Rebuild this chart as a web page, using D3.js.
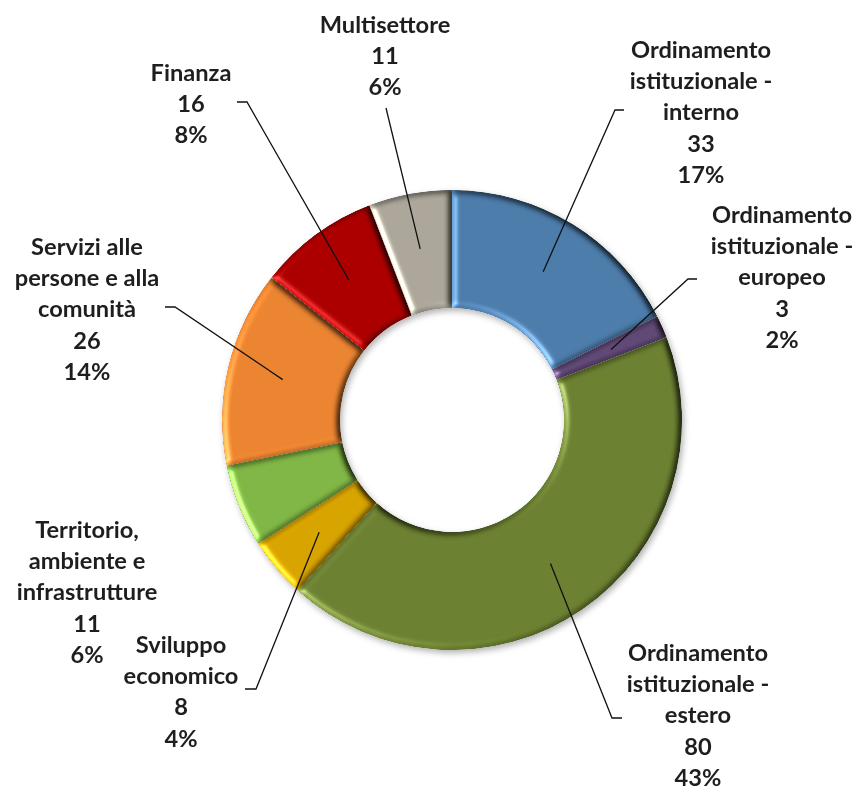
<!DOCTYPE html>
<html>
<head>
<meta charset="utf-8">
<script src="https://cdn.jsdelivr.net/npm/d3@7"></script>
<style>
  html, body { margin: 0; padding: 0; background: #ffffff; }
  svg { display: block; }
</style>
</head>
<body>
<div id="chart"></div>
<script>
// ---- data ----
const categories = [
  "Ordinamento istituzionale - interno",
  "Ordinamento istituzionale - europeo",
  "Ordinamento istituzionale - estero",
  "Sviluppo economico",
  "Territorio, ambiente e infrastrutture",
  "Servizi alle persone e alla comunità",
  "Finanza",
  "Multisettore"
];
const values = [33, 3, 80, 8, 11, 26, 16, 11];
const percentLabels = ["17%", "2%", "43%", "4%", "6%", "14%", "8%", "6%"];
const labelLines = [
  ["Ordinamento", "istituzionale -", "interno"],
  ["Ordinamento", "istituzionale -", "europeo"],
  ["Ordinamento", "istituzionale -", "estero"],
  ["Sviluppo", "economico"],
  ["Territorio,", "ambiente e", "infrastrutture"],
  ["Servizi alle", "persone e alla", "comunità"],
  ["Finanza"],
  ["Multisettore"]
];

// ---- styles / layout ----
const colors = ["#4a79a7", "#5d4672", "#687d2f", "#d4a000", "#7db342", "#e8812e", "#a80000", "#a8a396"];
const W = 859, H = 793;
const cx = 452, cy = 420, rOuter = 230, rInner = 112, rLeader = 174;
const lineH = 31.2;
// label block: centre x, first line y; leader: elbow and end points
const labelLayout = [
  { x: 701, y: 49,  elbow: [615, 110], end: [624, 110] },
  { x: 782, y: 214, elbow: [688, 279], end: [697, 279] },
  { x: 698, y: 652, elbow: [612, 718], end: [622, 718] },
  { x: 181, y: 644, elbow: [256, 689], end: [245, 689] },
  { x: 87,  y: 529, elbow: null, end: null },
  { x: 87,  y: 246, elbow: [175, 307], end: [165, 307] },
  { x: 191, y: 72,  elbow: [247, 102], end: [237, 102] },
  { x: 385, y: 24,  elbow: [386, 108], end: null }
];

const svg = d3.select("#chart").append("svg")
  .attr("width", W).attr("height", H)
  .attr("viewBox", `0 0 ${W} ${H}`);

svg.append("rect").attr("width", W).attr("height", H).attr("fill", "#fff");

const defs = svg.append("defs");
const bevel = defs.append("filter").attr("id", "bevel")
  .attr("x", "-10%").attr("y", "-10%").attr("width", "120%").attr("height", "120%")
  .attr("color-interpolation-filters", "sRGB");
bevel.append("feGaussianBlur").attr("in", "SourceAlpha").attr("stdDeviation", 3).attr("result", "blur");
const diff = bevel.append("feDiffuseLighting").attr("in", "blur").attr("surfaceScale", 3.5)
  .attr("diffuseConstant", 1).attr("lighting-color", "#fff").attr("result", "diff");
diff.append("feDistantLight").attr("azimuth", 155).attr("elevation", 55);
bevel.append("feComposite").attr("in", "SourceGraphic").attr("in2", "diff")
  .attr("operator", "arithmetic").attr("k1", 1 / Math.sin(55 * Math.PI / 180)).attr("k2", 0).attr("k3", 0).attr("k4", 0)
  .attr("result", "lit");
const spec = bevel.append("feSpecularLighting").attr("in", "blur").attr("surfaceScale", 3.5)
  .attr("specularConstant", 0.6).attr("specularExponent", 25).attr("lighting-color", "#fff").attr("result", "spec");
spec.append("feDistantLight").attr("azimuth", 155).attr("elevation", 35);
bevel.append("feComposite").attr("in", "spec").attr("in2", "SourceAlpha").attr("operator", "in").attr("result", "specIn");
bevel.append("feComposite").attr("in", "lit").attr("in2", "SourceAlpha").attr("operator", "in").attr("result", "litIn");
bevel.append("feComposite").attr("in", "litIn").attr("in2", "specIn")
  .attr("operator", "arithmetic").attr("k1", 0).attr("k2", 1).attr("k3", 0.5).attr("k4", 0);

const shadow = defs.append("filter").attr("id", "shadow")
  .attr("x", "-10%").attr("y", "-10%").attr("width", "120%").attr("height", "120%");
shadow.append("feDropShadow").attr("dx", 2).attr("dy", 3).attr("stdDeviation", 3)
  .attr("flood-color", "#000").attr("flood-opacity", 0.3);

const pie = d3.pie().sort(null).value(d => d).startAngle(0).endAngle(2 * Math.PI);
const arcs = pie(values);
const arc = d3.arc().innerRadius(rInner).outerRadius(rOuter);
const leaderArc = d3.arc().innerRadius(rLeader).outerRadius(rLeader);

const g = svg.append("g").attr("transform", `translate(${cx},${cy})`);
const ring = g.append("g").attr("filter", "url(#shadow)");
ring.selectAll("path.slice").data(arcs).join("path")
  .attr("class", "slice")
  .attr("d", arc)
  .attr("fill", (d, i) => colors[i])
  .attr("filter", "url(#bevel)");

// leader lines
const leaders = svg.append("g").attr("fill", "none").attr("stroke", "#111").attr("stroke-width", 1.3);
arcs.forEach((d, i) => {
  const L = labelLayout[i];
  if (!L.elbow) return;
  const c = leaderArc.centroid(d);
  const pts = [[cx + c[0], cy + c[1]], L.elbow];
  if (L.end) pts.push(L.end);
  leaders.append("path").attr("d", d3.line()(pts));
});

// labels
const fontFamily = "Lato, 'Open Sans', sans-serif";
const probe = svg.append("text").attr("font-family", fontFamily).attr("font-weight", 700)
  .attr("font-size", 100).text("Ordinamento");
const probeW = probe.node().getComputedTextLength();
probe.remove();
const fontSize = Math.min(26, 100 * 140 / probeW);

const labels = svg.append("g")
  .attr("font-family", fontFamily).attr("font-weight", 700)
  .attr("font-size", fontSize).attr("fill", "#1e1e1e").attr("text-anchor", "middle");
arcs.forEach((d, i) => {
  const L = labelLayout[i];
  const lines = labelLines[i].concat([String(values[i]), percentLabels[i]]);
  const t = labels.append("text").attr("x", L.x).attr("y", L.y);
  lines.forEach((s, k) => {
    t.append("tspan").attr("x", L.x).attr("y", L.y + k * lineH)
      .attr("dominant-baseline", "central").text(s);
  });
});
</script>
</body>
</html>
